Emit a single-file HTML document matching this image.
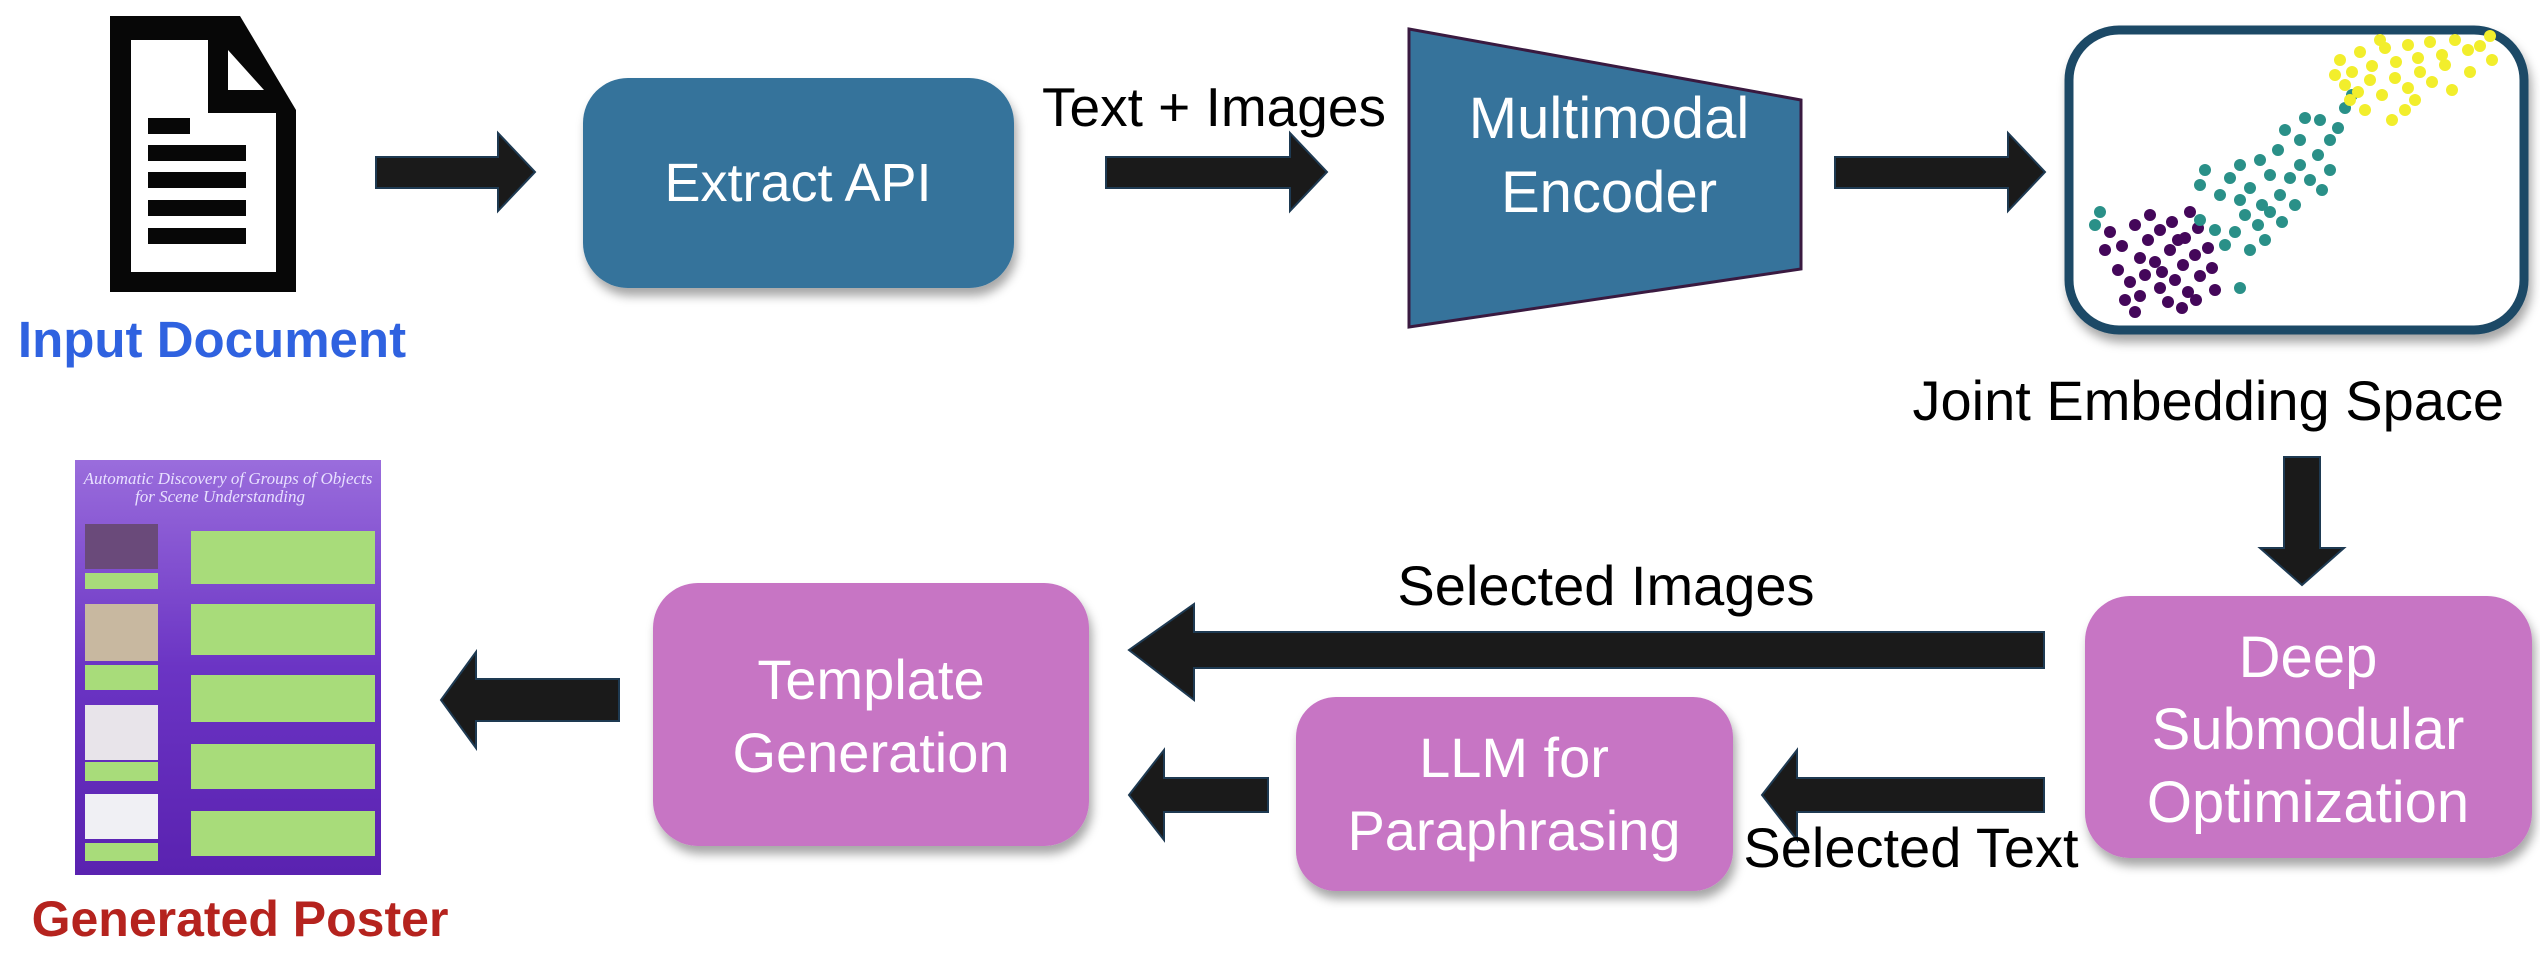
<!DOCTYPE html>
<html><head><meta charset="utf-8"><style>
html,body{margin:0;padding:0;background:#fff;}
body{width:2540px;height:956px;overflow:hidden;position:relative;font-family:"Liberation Sans",sans-serif;}
svg{position:absolute;left:0;top:0;}
</style></head><body>
<svg width="2540" height="956" viewBox="0 0 2540 956" xmlns="http://www.w3.org/2000/svg">
<defs>
<filter id="sh" x="-10%" y="-10%" width="130%" height="130%"><feDropShadow dx="3" dy="8" stdDeviation="5" flood-color="#000" flood-opacity="0.35"/></filter>
<linearGradient id="pg" x1="0" y1="0" x2="0" y2="1"><stop offset="0" stop-color="#9a6ddc"/><stop offset="0.5" stop-color="#6b34c4"/><stop offset="1" stop-color="#5a22b0"/></linearGradient>
</defs>
<!-- document icon -->
<path d="M110 16 H240 L296 110 V292 H110 Z" fill="#070707"/>
<path d="M131 40 H208 V113 H276 V272 H131 Z" fill="#fff"/>
<path d="M228 50 L264 90 H228 Z" fill="#fff"/>
<rect x="148" y="118" width="42" height="16" fill="#070707"/>
<rect x="148" y="145" width="98" height="16" fill="#070707"/>
<rect x="148" y="172" width="98" height="16" fill="#070707"/>
<rect x="148" y="200" width="98" height="16" fill="#070707"/>
<rect x="148" y="228" width="98" height="16" fill="#070707"/>
<text x="212" y="357" font-size="51" font-weight="bold" fill="#2f62e0" text-anchor="middle">Input Document</text>

<!-- arrows -->
<g fill="#1a1a1a" stroke="#1e3a52" stroke-width="2">
<polygon points="376,157 498,157 498,133 535,172 498,211 498,188 376,188"/>
<polygon points="1106,157 1290,157 1290,133 1327,172 1290,211 1290,188 1106,188"/>
<polygon points="1835,157 2008,157 2008,133 2045,172 2008,211 2008,188 1835,188"/>
<polygon points="2284,457 2320,457 2320,548 2344,548 2302,585 2260,548 2284,548"/>
<polygon points="2044,632 1194,632 1194,604 1129,650 1194,700 1194,668 2044,668"/>
<polygon points="2044,778 1797,778 1797,750 1762,795 1797,840 1797,812 2044,812"/>
<polygon points="1268,778 1164,778 1164,750 1129,795 1164,840 1164,812 1268,812"/>
<polygon points="619,679 476,679 476,652 441,700 476,748 476,721 619,721"/>
</g>

<!-- Extract API -->
<rect x="583" y="78" width="431" height="210" rx="45" fill="#36739b" filter="url(#sh)"/>
<text x="798" y="201" font-size="54" fill="#fff" text-anchor="middle">Extract API</text>
<text x="1214" y="126" font-size="55" fill="#000" text-anchor="middle">Text + Images</text>

<!-- Encoder -->
<polygon points="1409,29 1801,100 1801,269 1409,327" fill="#36739b" stroke="#3a1a40" stroke-width="3"/>
<text x="1609" y="138" font-size="58" fill="#fff" text-anchor="middle">Multimodal</text>
<text x="1609" y="212" font-size="58" fill="#fff" text-anchor="middle">Encoder</text>

<!-- Embedding box -->
<rect x="2069" y="30" width="455" height="300" rx="50" fill="#fff" stroke="#1f4a66" stroke-width="9" filter="url(#sh)"/>
<g fill="#44075a">
<circle cx="2110" cy="232" r="6"/><circle cx="2122" cy="246" r="6"/><circle cx="2135" cy="225" r="6"/><circle cx="2148" cy="240" r="6"/><circle cx="2160" cy="230" r="6"/><circle cx="2172" cy="222" r="6"/><circle cx="2185" cy="238" r="6"/><circle cx="2198" cy="228" r="6"/><circle cx="2140" cy="258" r="6"/><circle cx="2155" cy="262" r="6"/><circle cx="2170" cy="250" r="6"/><circle cx="2183" cy="265" r="6"/><circle cx="2195" cy="255" r="6"/><circle cx="2208" cy="248" r="6"/><circle cx="2118" cy="270" r="6"/><circle cx="2130" cy="282" r="6"/><circle cx="2145" cy="275" r="6"/><circle cx="2160" cy="288" r="6"/><circle cx="2175" cy="280" r="6"/><circle cx="2188" cy="292" r="6"/><circle cx="2200" cy="276" r="6"/><circle cx="2212" cy="268" r="6"/><circle cx="2125" cy="300" r="6"/><circle cx="2140" cy="296" r="6"/><circle cx="2168" cy="302" r="6"/><circle cx="2182" cy="308" r="6"/><circle cx="2105" cy="250" r="6"/><circle cx="2150" cy="215" r="6"/><circle cx="2190" cy="212" r="6"/><circle cx="2215" cy="290" r="6"/><circle cx="2135" cy="312" r="6"/><circle cx="2196" cy="300" r="6"/><circle cx="2162" cy="272" r="6"/><circle cx="2178" cy="240" r="6"/>
</g>
<g fill="#2a9088">
<circle cx="2100" cy="212" r="6"/><circle cx="2095" cy="225" r="6"/><circle cx="2205" cy="170" r="6"/><circle cx="2200" cy="185" r="6"/><circle cx="2220" cy="195" r="6"/><circle cx="2230" cy="178" r="6"/><circle cx="2240" cy="200" r="6"/><circle cx="2250" cy="188" r="6"/><circle cx="2262" cy="205" r="6"/><circle cx="2245" cy="215" r="6"/><circle cx="2258" cy="225" r="6"/><circle cx="2270" cy="212" r="6"/><circle cx="2280" cy="195" r="6"/><circle cx="2290" cy="178" r="6"/><circle cx="2300" cy="165" r="6"/><circle cx="2310" cy="180" r="6"/><circle cx="2295" cy="205" r="6"/><circle cx="2282" cy="222" r="6"/><circle cx="2265" cy="240" r="6"/><circle cx="2250" cy="250" r="6"/><circle cx="2235" cy="232" r="6"/><circle cx="2225" cy="245" r="6"/><circle cx="2260" cy="160" r="6"/><circle cx="2278" cy="150" r="6"/><circle cx="2300" cy="140" r="6"/><circle cx="2318" cy="155" r="6"/><circle cx="2330" cy="140" r="6"/><circle cx="2320" cy="120" r="6"/><circle cx="2338" cy="128" r="6"/><circle cx="2345" cy="108" r="6"/><circle cx="2352" cy="95" r="6"/><circle cx="2285" cy="130" r="6"/><circle cx="2305" cy="118" r="6"/><circle cx="2270" cy="175" r="6"/><circle cx="2240" cy="165" r="6"/><circle cx="2215" cy="230" r="6"/><circle cx="2240" cy="288" r="6"/><circle cx="2200" cy="220" r="6"/><circle cx="2322" cy="190" r="6"/><circle cx="2330" cy="170" r="6"/>
</g>
<g fill="#f2ee2c">
<circle cx="2340" cy="60" r="6"/><circle cx="2352" cy="72" r="6"/><circle cx="2360" cy="52" r="6"/><circle cx="2372" cy="66" r="6"/><circle cx="2385" cy="48" r="6"/><circle cx="2396" cy="62" r="6"/><circle cx="2408" cy="45" r="6"/><circle cx="2418" cy="58" r="6"/><circle cx="2430" cy="42" r="6"/><circle cx="2442" cy="55" r="6"/><circle cx="2455" cy="40" r="6"/><circle cx="2468" cy="50" r="6"/><circle cx="2480" cy="46" r="6"/><circle cx="2492" cy="60" r="6"/><circle cx="2345" cy="85" r="6"/><circle cx="2358" cy="92" r="6"/><circle cx="2370" cy="80" r="6"/><circle cx="2382" cy="95" r="6"/><circle cx="2395" cy="78" r="6"/><circle cx="2408" cy="88" r="6"/><circle cx="2420" cy="72" r="6"/><circle cx="2432" cy="82" r="6"/><circle cx="2445" cy="65" r="6"/><circle cx="2405" cy="110" r="6"/><circle cx="2392" cy="120" r="6"/><circle cx="2415" cy="100" r="6"/><circle cx="2380" cy="40" r="6"/><circle cx="2335" cy="75" r="6"/><circle cx="2452" cy="90" r="6"/><circle cx="2490" cy="36" r="6"/><circle cx="2350" cy="100" r="6"/><circle cx="2365" cy="110" r="6"/><circle cx="2470" cy="72" r="6"/>
</g>
<text x="2504" y="420" font-size="56" fill="#000" text-anchor="end">Joint Embedding Space</text>

<!-- Deep Submodular -->
<rect x="2085" y="596" width="447" height="262" rx="45" fill="#c774c4" filter="url(#sh)"/>
<text x="2308" y="677" font-size="58" fill="#fff" text-anchor="middle">Deep</text>
<text x="2308" y="749" font-size="58" fill="#fff" text-anchor="middle">Submodular</text>
<text x="2308" y="822" font-size="58" fill="#fff" text-anchor="middle">Optimization</text>
<text x="1606" y="605" font-size="56" fill="#000" text-anchor="middle">Selected Images</text>
<text x="1911" y="867" font-size="56" fill="#000" text-anchor="middle">Selected Text</text>

<!-- Template -->
<rect x="653" y="583" width="436" height="263" rx="45" fill="#c774c4" filter="url(#sh)"/>
<text x="871" y="699" font-size="56" fill="#fff" text-anchor="middle">Template</text>
<text x="871" y="772" font-size="56" fill="#fff" text-anchor="middle">Generation</text>

<!-- LLM -->
<rect x="1296" y="697" width="437" height="194" rx="40" fill="#c774c4" filter="url(#sh)"/>
<text x="1514" y="777" font-size="56" fill="#fff" text-anchor="middle">LLM for</text>
<text x="1514" y="850" font-size="56" fill="#fff" text-anchor="middle">Paraphrasing</text>

<!-- Poster -->
<rect x="75" y="460" width="306" height="415" fill="url(#pg)"/>
<text x="228" y="484" font-size="17" font-style="italic" fill="#e8e0ff" text-anchor="middle" font-family="Liberation Serif,serif">Automatic Discovery of Groups of Objects</text>
<text x="220" y="502" font-size="17" font-style="italic" fill="#e8e0ff" text-anchor="middle" font-family="Liberation Serif,serif">for Scene Understanding</text>
<g fill="#a8dc7a">
<rect x="85" y="524" width="73" height="45" fill="#6a4a7a"/>
<rect x="85" y="573" width="73" height="16"/>
<rect x="85" y="604" width="73" height="57" fill="#c8b8a0"/>
<rect x="85" y="665" width="73" height="25"/>
<rect x="85" y="705" width="73" height="55" fill="#e8e4ea"/>
<rect x="85" y="762" width="73" height="19"/>
<rect x="85" y="794" width="73" height="45" fill="#f0f0f4"/>
<rect x="85" y="843" width="73" height="18"/>
<rect x="191" y="531" width="184" height="53"/>
<rect x="191" y="604" width="184" height="51"/>
<rect x="191" y="675" width="184" height="47"/>
<rect x="191" y="744" width="184" height="45"/>
<rect x="191" y="811" width="184" height="45"/>
</g>
<text x="240" y="936" font-size="50" font-weight="bold" fill="#b5231e" text-anchor="middle">Generated Poster</text>
</svg>
</body></html>
